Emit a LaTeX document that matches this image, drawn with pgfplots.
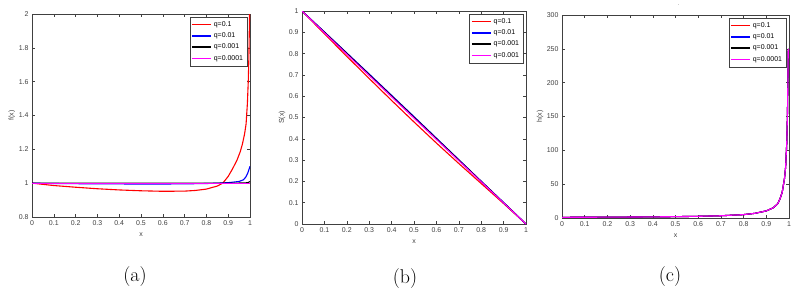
\documentclass[border=0pt]{standalone}
\usepackage{fontspec}
\usepackage{pgfplots}
\pgfplotsset{compat=1.18}
\newfontfamily\arialfont{Liberation Sans}
\definecolor{axgray}{HTML}{404040}
\definecolor{mred}{HTML}{FF0000}
\definecolor{mblue}{HTML}{0000FF}
\definecolor{mblack}{HTML}{000000}
\definecolor{mmag}{HTML}{FF00FF}
\pgfplotsset{
  mstyle/.style={
    scale only axis,
    xmin=0, xmax=1,
    axis line style={axgray, line width=0.6bp},
    tick style={axgray, line width=0.5bp},
    tick align=inside,
    major tick length=3bp,
    xtick={0,0.1,0.2,0.3,0.4,0.5,0.6,0.7,0.8,0.9,1},
    xticklabels={0,0.1,0.2,0.3,0.4,0.5,0.6,0.7,0.8,0.9,1},
    ticklabel style={font=\arialfont\fontsize{7}{8}\selectfont, text=axgray},
    xticklabel style={yshift=-0.3bp},
    label style={font=\arialfont\fontsize{7}{8}\selectfont, text=axgray},
    xlabel style={at={(axis description cs:0.5,0)}, anchor=center, yshift=-18bp},
    /pgf/number format/assume math mode=true,
    legend cell align=left,
    legend style={at={(1,1)}, anchor=north east, xshift=-3bp, yshift=-3bp,
      font=\arialfont\fontsize{7}{8}\selectfont, draw=axgray,
      inner xsep=1.5bp, inner ysep=2bp, row sep=0.3bp,
      nodes={inner sep=2.2bp, text height=5bp, text depth=1.5bp}},
    legend image code/.code={\draw[#1, line width=1.4bp] (0bp,0bp) -- (19bp,0bp);},
    every axis plot/.append style={line width=1.1bp},
  }
}
\begin{document}
\begin{tikzpicture}
\path[use as bounding box] (0,0) rectangle (803bp,-293bp);

% ---------------- (a) ----------------
\begin{axis}[mstyle, at={(32bp,-217bp)}, anchor=south west,
  width=218bp, height=203bp,
  ymin=0.8, ymax=2,
  ytick={0.8,1,1.2,1.4,1.6,1.8,2},
  yticklabels={0.8,1,1.2,1.4,1.6,1.8,2},
  xlabel={x}, ylabel={f(x)},
  ylabel style={at={(axis description cs:-0.092,0.5)}, anchor=center},
]
\addplot[color=mred] coordinates {
(0,1.0) (0.05,0.993) (0.1,0.986) (0.2,0.976) (0.3,0.967) (0.4,0.960)
(0.5,0.955) (0.6,0.952) (0.7,0.953) (0.75,0.957) (0.8,0.965) (0.85,0.983)
(0.875,1.0) (0.9,1.04) (0.92,1.085) (0.94,1.135) (0.955,1.185) (0.965,1.23)
(0.975,1.29) (0.982,1.35) (0.988,1.47) (0.992,1.6) (0.995,1.75) (0.998,2.0)};
\addlegendentry{q=0.1}
\addplot[color=mblue] coordinates {
(0,1.0) (0.1,0.998) (0.3,0.996) (0.5,0.995) (0.6,0.995) (0.7,0.996) (0.8,0.998)
(0.85,1.0) (0.9,1.003) (0.95,1.01) (0.97,1.02) (0.98,1.035) (0.99,1.06) (0.995,1.08) (1.0,1.1)};
\addlegendentry{q=0.01}
\addplot[color=mblack] coordinates {
(0,1.0) (0.5,1.0) (0.9,1.0) (0.97,1.001) (0.99,1.003) (1.0,1.01)};
\addlegendentry{q=0.001}
\addplot[color=mmag] coordinates {
(0,1.0) (0.5,1.0) (1.0,1.0)};
\addlegendentry{q=0.0001}
\end{axis}

% ---------------- (b) ----------------
\begin{axis}[mstyle, at={(302bp,-224bp)}, anchor=south west,
  width=224bp, height=213bp,
  ymin=0, ymax=1,
  ytick={0,0.1,0.2,0.3,0.4,0.5,0.6,0.7,0.8,0.9,1},
  yticklabels={0,0.1,0.2,0.3,0.4,0.5,0.6,0.7,0.8,0.9,1},
  xlabel={x}, ylabel={S(x)},
  ylabel style={at={(axis description cs:-0.089,0.5)}, anchor=center},
]
\addplot[color=mred] coordinates {
(0,1) (0.1,0.893) (0.2,0.787) (0.3,0.683) (0.4,0.580) (0.5,0.479) (0.6,0.380)
(0.7,0.284) (0.8,0.190) (0.85,0.143) (0.9,0.096) (0.95,0.048) (1,0)};
\addlegendentry{q=0.1}
\addplot[color=mblue] coordinates {
(0,1) (0.1,0.902) (0.2,0.803) (0.3,0.704) (0.4,0.604) (0.5,0.504) (0.6,0.403)
(0.7,0.302) (0.8,0.201) (0.9,0.101) (1,0)};
\addlegendentry{q=0.01}
\addplot[color=mblack] coordinates {
(0,1) (0.2,0.801) (0.5,0.501) (0.8,0.2) (1,0)};
\addlegendentry{q=0.001}
\addplot[color=mmag] coordinates {
(0,1) (0.1,0.898) (0.2,0.797) (0.3,0.697) (0.4,0.597) (0.5,0.497) (0.6,0.397)
(0.7,0.297) (0.8,0.198) (0.9,0.099) (1,0)};
\addlegendentry{q=0.001}
\end{axis}

% ---------------- (c) ----------------
\begin{axis}[mstyle, at={(562bp,-218bp)}, anchor=south west,
  width=227bp, height=203bp,
  ymin=0, ymax=300,
  ytick={0,50,100,150,200,250,300},
  yticklabels={0,50,100,150,200,250,300},
  xlabel={x}, ylabel={h(x)},
  ylabel style={at={(axis description cs:-0.097,0.5)}, anchor=center},
  title={.}, title style={font=\arialfont\fontsize{5}{5}\selectfont, text=axgray,
    at={(axis description cs:0.515,1)}, anchor=south, yshift=0bp},
]
\addplot[color=mred] coordinates {
(0,1) (0.1,1.11) (0.2,1.25) (0.3,1.43) (0.4,1.67) (0.5,2.0) (0.6,2.5) (0.7,3.33)
(0.8,5.0) (0.85,6.9) (0.9,10.5) (0.93,15) (0.95,21) (0.96,28) (0.97,38) (0.98,58)
(0.985,75) (0.99,110) (0.993,150) (0.995,200) (0.997,250)};
\addlegendentry{q=0.1}
\addplot[color=mblue] coordinates {
(0,1) (0.1,1.11) (0.2,1.25) (0.3,1.43) (0.4,1.67) (0.5,2.0) (0.6,2.5) (0.7,3.33)
(0.8,5.0) (0.85,6.9) (0.9,10.5) (0.93,15) (0.95,21) (0.96,28) (0.97,38) (0.98,58)
(0.985,75) (0.99,110) (0.993,150) (0.995,200) (0.997,250)};
\addlegendentry{q=0.01}
\addplot[color=mblack] coordinates {
(0,1) (0.1,1.11) (0.2,1.25) (0.3,1.43) (0.4,1.67) (0.5,2.0) (0.6,2.5) (0.7,3.33)
(0.8,5.0) (0.85,6.9) (0.9,10.5) (0.93,15) (0.95,21) (0.96,28) (0.97,38) (0.98,58)
(0.985,75) (0.99,110) (0.993,150) (0.995,200) (0.997,250)};
\addlegendentry{q=0.001}
\addplot[color=mmag] coordinates {
(0,1) (0.1,1.11) (0.2,1.25) (0.3,1.43) (0.4,1.67) (0.5,2.0) (0.6,2.5) (0.7,3.33)
(0.8,5.0) (0.85,6.9) (0.9,10.5) (0.93,15) (0.95,21) (0.96,28) (0.97,38) (0.98,58)
(0.985,75) (0.99,110) (0.993,150) (0.995,200) (0.997,250)};
\addlegendentry{q=0.0001}
\end{axis}

\node[font=\fontsize{20}{24}\selectfont] at (135bp,-277bp) {(a)};
\node[font=\fontsize{20}{24}\selectfont] at (405bp,-279bp) {(b)};
\node[font=\fontsize{20}{24}\selectfont] at (670bp,-277bp) {(c)};
\end{tikzpicture}
\end{document}
